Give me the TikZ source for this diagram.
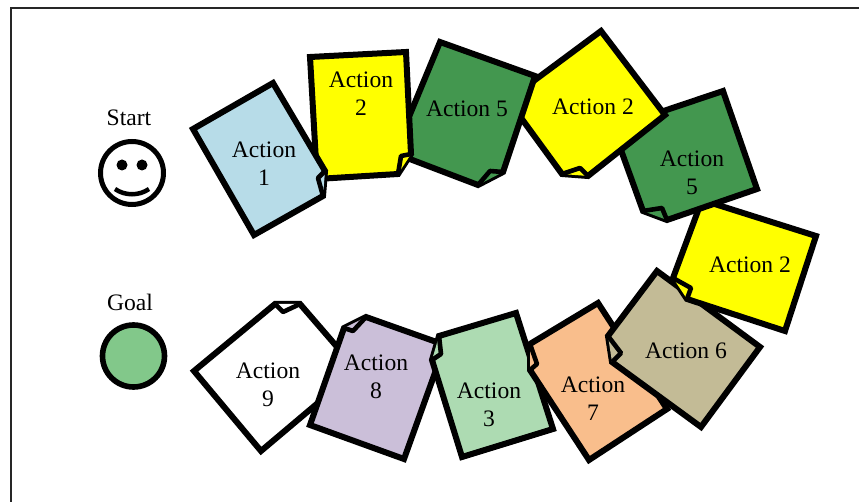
\documentclass[tikz,border=0pt]{standalone}
\usepackage{fontspec}
\setmainfont{Liberation Serif}
\definecolor{paleblue}{HTML}{B7DCE8}
\definecolor{darkgreen}{HTML}{43974F}
\definecolor{tanpage}{HTML}{C3BB96}
\definecolor{orangepage}{HTML}{F9BE8C}
\definecolor{palegreen}{HTML}{ADDBB2}
\definecolor{lilac}{HTML}{CBBFD9}
\definecolor{goalgreen}{HTML}{82C88A}
\definecolor{pageyellow}{RGB}{255,255,0}
\tikzset{
  page/.style={draw=black, line width=6pt, line join=miter},
  flap/.style={draw=black, line width=4.6pt, line join=round},
  actionlabel/.style={align=center, inner sep=0pt, font=\fontsize{23.6}{28}\selectfont},
  sidelabel/.style={inner sep=0pt, font=\fontsize{23.6}{28}\selectfont}
}

\begin{document}
\begin{tikzpicture}[x=1pt, y=-1pt]
      \useasboundingbox (0, 0) rectangle (859, 502);
      \draw[line width=2pt, draw=black!85] (10.5, 502) -- (10.5, 8.5) -- (859, 8.5);
      % start and goal
      \node[sidelabel] (start) at (129, 117.5) {Start};
      \node[draw, circle, line width=5pt, minimum size=63pt, inner sep=0pt] (smiley) at (132, 173) {};
      \fill (122, 165) circle (5.5pt);
      \fill (142, 165) circle (5.5pt);
      \draw[line width=4.5pt] (115, 189) .. controls (125, 196) and (139, 196) .. (149, 189);
      \node[sidelabel] (goal) at (130, 302) {Goal};
      \node[draw, circle, line width=5.6pt, fill=goalgreen, minimum size=62pt, inner sep=0pt] (goalcircle) at (133.5, 356) {};
      % pages, lowest first
      \draw[page, fill=white] (300, 304) -- (357, 370) -- (261, 451) -- (194, 371) -- (275, 304) -- cycle;
      \draw[flap, fill=white] (275, 304) -- (283, 312) -- (300, 304);
      \node[actionlabel] (action9) at (268, 385) {Action\\9};
      \draw[page, fill=lilac] (366, 317) -- (445, 345) -- (404, 459) -- (310, 425) -- (344, 328) -- cycle;
      \draw[flap, fill=lilac] (344, 328) -- (353, 331) -- (366, 317);
      \node[actionlabel] (action8) at (376, 376.5) {Action\\8};
      \draw[page, fill=palegreen] (516, 313) -- (553, 429) -- (462, 457) -- (432, 360) -- (439, 336) -- cycle;
      \draw[flap, fill=palegreen] (439, 336) -- (441, 354) -- (432, 360);
      \node[actionlabel] (action3) at (489, 404.5) {Action\\3};
      \draw[page, fill=orangepage] (598, 303) -- (667, 409) -- (589, 460) -- (530, 370) -- (530, 344) -- cycle;
      \draw[flap, fill=orangepage] (530, 344) -- (537, 364) -- (530, 370);
      \node[actionlabel] (action7) at (593, 399) {Action\\7};
      \draw[page, fill=tanpage] (657, 271) -- (760, 347) -- (701, 427) -- (612, 362) -- (608, 336) -- cycle;
      \draw[flap, fill=tanpage] (608, 336) -- (621, 353) -- (612, 362);
      \node[actionlabel] (action6) at (686, 351) {Action 6};
      \draw[page, fill=pageyellow] (702, 200) -- (816, 236) -- (785, 331) -- (687, 299) -- (673, 278) -- cycle;
      \draw[flap, fill=pageyellow] (673, 278) -- (691, 288) -- (687, 299);
      \node[actionlabel] (action2c) at (750, 265) {Action 2};
      \draw[page, fill=darkgreen] (613, 128) -- (723, 91) -- (757, 189) -- (667, 220) -- (643, 211) -- cycle;
      \draw[flap, fill=darkgreen] (643, 211) -- (662, 208) -- (667, 220);
      \node[actionlabel] (action5b) at (692, 172.5) {Action\\5};
      \draw[page, fill=pageyellow] (601, 31) -- (665, 115) -- (588, 176) -- (562, 174) -- (508, 100) -- cycle;
      \draw[flap, fill=pageyellow] (562, 174) -- (580, 168) -- (588, 176);
      \node[actionlabel] (action2b) at (593, 107) {Action 2};
      \draw[page, fill=darkgreen] (440, 42) -- (535, 76) -- (503, 172) -- (478, 185) -- (394, 153) -- cycle;
      \draw[flap, fill=darkgreen] (503, 172) -- (490, 171) -- (478, 185);
      \node[actionlabel] (action5a) at (467, 109) {Action 5};
      \draw[page, fill=pageyellow] (310, 57) -- (406, 52) -- (411, 154) -- (398, 174) -- (317, 179) -- cycle;
      \draw[flap, fill=pageyellow] (411, 154) -- (401, 156) -- (398, 174);
      \node[actionlabel] (action2a) at (361, 94) {Action\\2};
      \draw[page, fill=paleblue] (273, 83) -- (325, 171) -- (323, 196) -- (254, 235) -- (193, 129) -- cycle;
      \draw[flap, fill=paleblue] (325, 171) -- (318, 178) -- (323, 196);
      \node[actionlabel] (action1) at (264, 164) {Action\\1};
    \end{tikzpicture}
\end{document}
